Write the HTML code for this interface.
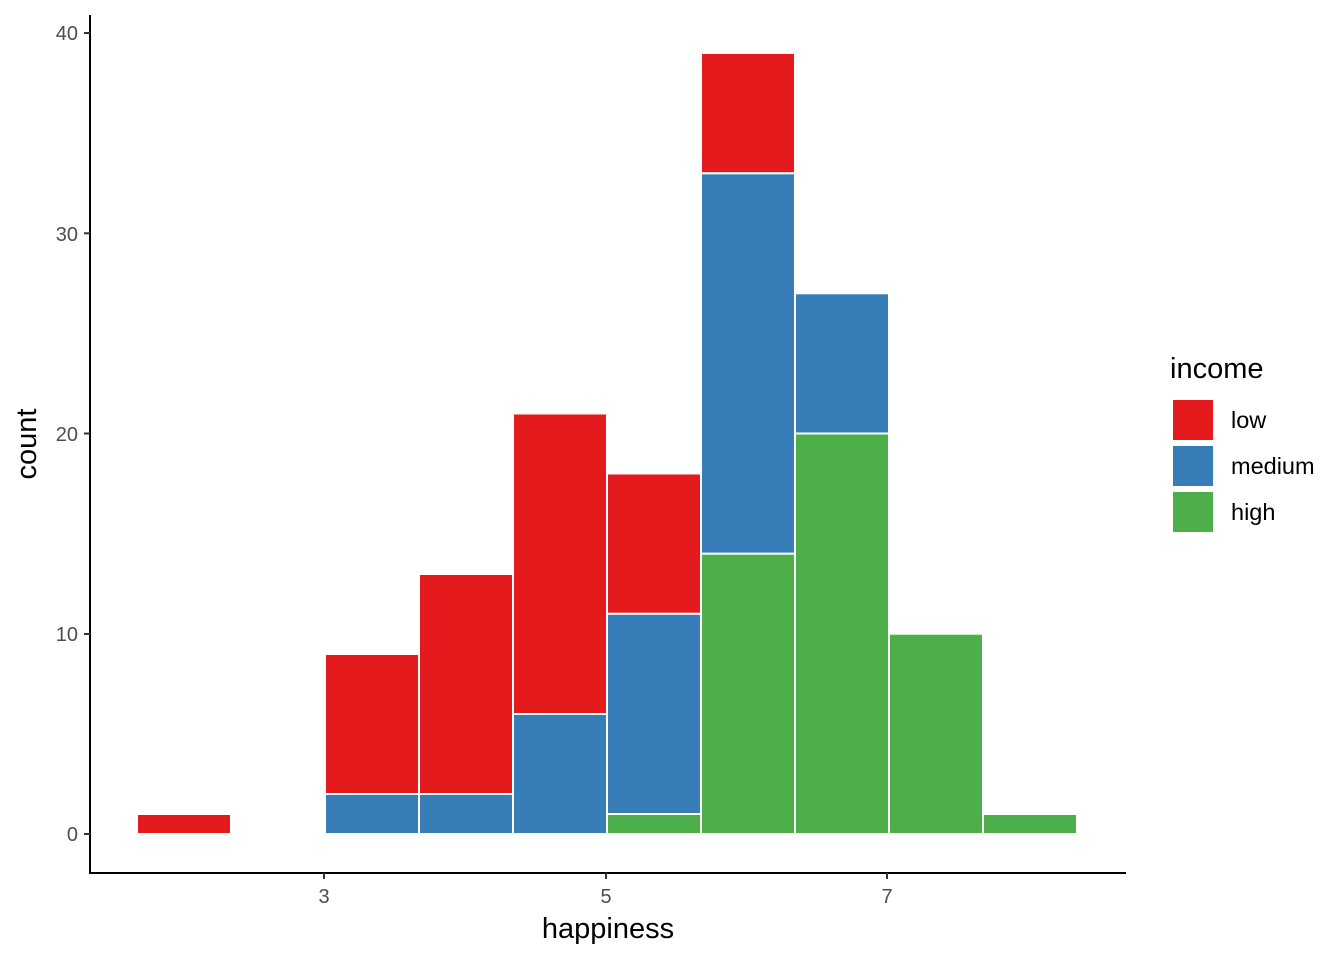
<!DOCTYPE html>
<html><head><meta charset="utf-8"><style>
html,body{margin:0;padding:0;background:#fff;}
svg{display:block;font-family:"Liberation Sans",sans-serif;}
</style></head><body>
<svg width="1344" height="960" viewBox="0 0 1344 960" xmlns="http://www.w3.org/2000/svg">
<rect width="1344" height="960" fill="#fff"/>
<g stroke="#fff" stroke-width="2">
<rect x="137" y="814" width="94" height="20" fill="#E41A1C"/>
<rect x="325" y="794" width="94" height="40" fill="#377EB8"/>
<rect x="325" y="654" width="94" height="140" fill="#E41A1C"/>
<rect x="419" y="794" width="94" height="40" fill="#377EB8"/>
<rect x="419" y="574" width="94" height="220" fill="#E41A1C"/>
<rect x="513" y="714" width="94" height="120" fill="#377EB8"/>
<rect x="513" y="413.5" width="94" height="300.5" fill="#E41A1C"/>
<rect x="607" y="814" width="94" height="20" fill="#4DAF4A"/>
<rect x="607" y="613.7" width="94" height="200.3" fill="#377EB8"/>
<rect x="607" y="473.5" width="94" height="140.2" fill="#E41A1C"/>
<rect x="701" y="553.6" width="94" height="280.4" fill="#4DAF4A"/>
<rect x="701" y="173.2" width="94" height="380.4" fill="#377EB8"/>
<rect x="701" y="53" width="94" height="120.2" fill="#E41A1C"/>
<rect x="795" y="433.5" width="94" height="400.5" fill="#4DAF4A"/>
<rect x="795" y="293.3" width="94" height="140.2" fill="#377EB8"/>
<rect x="889" y="633.7" width="94" height="200.3" fill="#4DAF4A"/>
<rect x="983" y="814" width="94" height="20" fill="#4DAF4A"/>
</g>
<line x1="90" y1="15" x2="90" y2="874" stroke="#000" stroke-width="2"/>
<line x1="89" y1="873" x2="1126" y2="873" stroke="#000" stroke-width="2"/>
<g stroke="#333" stroke-width="2">
<line x1="84" y1="834" x2="90" y2="834"/>
<line x1="84" y1="634" x2="90" y2="634"/>
<line x1="84" y1="433.5" x2="90" y2="433.5"/>
<line x1="84" y1="233.3" x2="90" y2="233.3"/>
<line x1="84" y1="33" x2="90" y2="33"/>
<line x1="324" y1="873" x2="324" y2="879"/>
<line x1="606" y1="873" x2="606" y2="879"/>
<line x1="887" y1="873" x2="887" y2="879"/>
</g>
<g fill="#4d4d4d" font-size="20" text-anchor="end">
<text x="78" y="841">0</text>
<text x="78" y="641">10</text>
<text x="78" y="441">20</text>
<text x="78" y="241">30</text>
<text x="78" y="40">40</text>
</g>
<g fill="#4d4d4d" font-size="20" text-anchor="middle">
<text x="324" y="903">3</text>
<text x="606" y="903">5</text>
<text x="887" y="903">7</text>
</g>
<text x="608" y="938" font-size="29" text-anchor="middle" fill="#000">happiness</text>
<text transform="translate(36,444) rotate(-90)" font-size="29" text-anchor="middle" fill="#000">count</text>
<text x="1170" y="378" font-size="29" fill="#000">income</text>
<rect x="1173" y="400" width="40" height="40" fill="#E41A1C"/>
<rect x="1173" y="446" width="40" height="40" fill="#377EB8"/>
<rect x="1173" y="492" width="40" height="40" fill="#4DAF4A"/>
<g font-size="23.5" fill="#000">
<text x="1231" y="428">low</text>
<text x="1231" y="474">medium</text>
<text x="1231" y="520">high</text>
</g>
</svg>
</body></html>
